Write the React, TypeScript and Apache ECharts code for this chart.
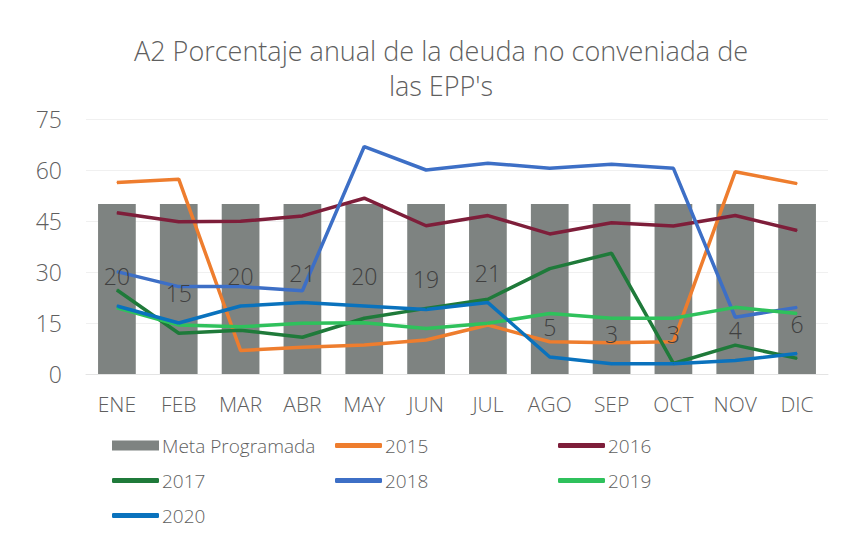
import React, { useEffect, useRef } from "react";
import * as echarts from "echarts";

const categories = ["ENE", "FEB", "MAR", "ABR", "MAY", "JUN", "JUL", "AGO", "SEP", "OCT", "NOV", "DIC"];
const meta = [50, 50, 50, 50, 50, 50, 50, 50, 50, 50, 50, 50];
const s2015 = [56.3, 57.3, 6.9, 7.9, 8.5, 10, 14.4, 9.5, 9.2, 9.5, 59.5, 56];
const s2016 = [47.4, 44.8, 44.9, 46.5, 51.7, 43.6, 46.6, 41.2, 44.5, 43.5, 46.6, 42.2];
const s2017 = [24.7, 12, 12.9, 10.8, 16.4, 19.3, 22, 31, 35.5, 3.1, 8.5, 4.6];
const s2018 = [30.1, 25.7, 25.7, 24.5, 66.9, 60, 62, 60.5, 61.7, 60.5, 16.7, 19.6];
const s2019 = [19.5, 14.4, 13.9, 14.9, 15.1, 13.4, 14.9, 17.8, 16.4, 16.4, 19.6, 17.8];
const s2020 = [20, 15, 20, 21, 20, 19, 21, 5, 3, 3, 4, 6];
const yTicks = { min: 0, max: 75, interval: 15 };

const LIGHT = "Open Sans";
const TXT = "#5f5f5f";

export default function App() {
  const ref = useRef<HTMLDivElement>(null);
  useEffect(() => {
    if (!ref.current) return;
    const chart = echarts.init(ref.current, null, { renderer: "svg" });
    const line = (name: string, data: number[], color: string, extra: any = {}) => ({
      name,
      type: "line",
      data,
      symbol: "circle",
      symbolSize: 1,
      lineStyle: { color, width: 3.5 },
      itemStyle: { color },
      ...extra,
    });
    const legendItem = (name: string, left: number, top: number, isBar = false) => ({
      data: [name],
      left,
      top,
      icon: isBar ? "rect" : "roundRect",
      itemWidth: 47,
      itemHeight: isBar ? 10 : 5,
      itemGap: 0,
      textStyle: { fontFamily: LIGHT, fontWeight: 300, fontSize: 19, color: TXT, padding: [0, 0, 0, -2] },
      selectedMode: false,
    });
    chart.setOption({
      animation: false,
      backgroundColor: "#ffffff",
      title: {
        text: "A2 Porcentaje anual de la deuda no conveniada de\nlas EPP's",
        left: 436,
        top: 28,
        textAlign: "center",
        textStyle: { fontFamily: LIGHT, fontSize: 27, fontWeight: 300, color: TXT, lineHeight: 35 },
      },
      legend: [
        legendItem("Meta Programada", 107, 431, true),
        legendItem("2015", 330, 431),
        legendItem("2016", 553, 431),
        legendItem("2017", 107, 466),
        legendItem("2018", 330, 466),
        legendItem("2019", 553, 466),
        legendItem("2020", 107, 501),
      ],
      grid: { left: 86, right: 22, top: 119, bottom: 165 },
      xAxis: {
        type: "category",
        data: categories,
        boundaryGap: true,
        axisLine: { lineStyle: { color: "#e4e4e4" } },
        axisTick: { show: false },
        axisLabel: { fontFamily: LIGHT, fontWeight: 300, fontSize: 21, color: TXT, margin: 19 },
      },
      yAxis: {
        type: "value",
        min: yTicks.min,
        max: yTicks.max,
        interval: yTicks.interval,
        axisLine: { show: false },
        axisTick: { show: false },
        splitLine: { lineStyle: { color: "#f0f0f0" } },
        axisLabel: { fontFamily: LIGHT, fontWeight: 300, fontSize: 23, color: TXT, margin: 24 },
      },
      series: [
        {
          name: "Meta Programada",
          type: "bar",
          data: meta,
          barWidth: "61%",
          itemStyle: { color: "#7e8381" },
          z: 1,
        },
        line("2015", s2015, "#ee7d2e"),
        line("2016", s2016, "#7e1e3a"),
        line("2017", s2017, "#1f7a3a"),
        line("2018", s2018, "#3d6fc6"),
        line("2019", s2019, "#2fc15c"),
        line("2020", s2020, "#0a72bd", {
          label: {
            show: true,
            position: "top",
            distance: 18,
            fontFamily: LIGHT,
            fontWeight: 300,
            fontSize: 23,
            color: "#404040",
          },
        }),
      ],
    });
    return () => chart.dispose();
  }, []);
  return <div ref={ref} style={{ position: "fixed", left: 0, top: 0, width: 850, height: 539 }} />;
}
